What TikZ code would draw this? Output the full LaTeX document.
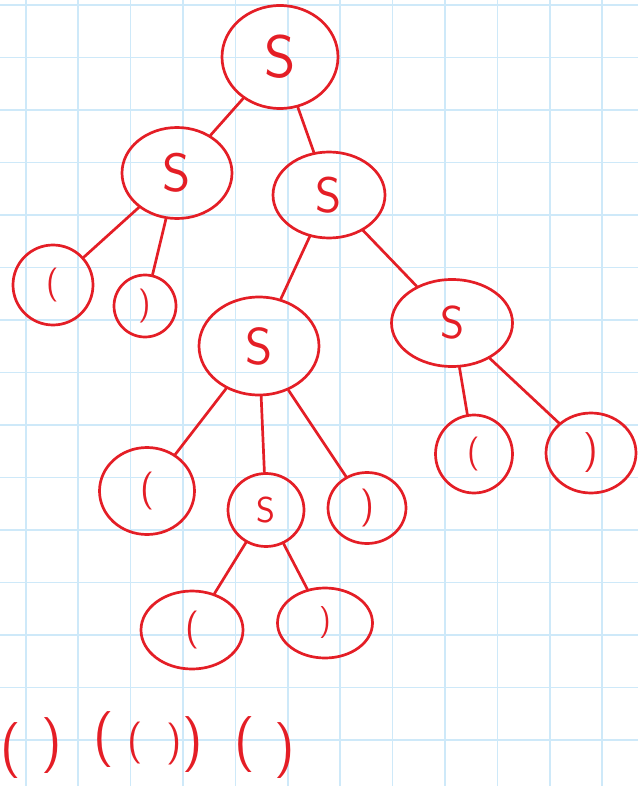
\documentclass[tikz,border=0pt]{standalone}
\usepackage{tikz}
\usetikzlibrary{shapes.geometric}
\definecolor{pen}{RGB}{228,30,38}
\definecolor{gridblue}{RGB}{206,233,249}
\tikzset{sym/.style={ellipse,draw=pen,line width=2.7pt,text=pen,inner sep=0pt,
    font=\sffamily\fontsize{#1}{#1}\selectfont},
  sym/.default=50,
  brk/.style={text=pen,inner sep=0pt,font=\sffamily\fontsize{#1}{#1}\selectfont},
  edge/.style={pen,line width=2.7pt,line cap=round},
  gridline/.style={gridblue,line width=1.6pt}}

\begin{document}
\begin{tikzpicture}[x=1pt,y=-1pt]
\useasboundingbox (0,0) rectangle (638,786);
% squared paper
\foreach \i in {0,...,11} \draw[gridline] (25.7+52.4*\i,0) -- (25.7+52.4*\i,786);
\foreach \j in {0,...,14} \draw[gridline] (0,5+52.5*\j) -- (638,5+52.5*\j);
% parse tree
\node[sym=60,minimum width=116,minimum height=103] (s0) at (280,57) {S};
\node[sym=54,minimum width=110,minimum height=91] (s1) at (177,173) {S};
\node[sym=50,minimum width=112,minimum height=86] (s2) at (329,195) {S};
\node[sym=34,minimum width=80,minimum height=80] (l1) at (53,285) {(};
\node[sym=34,minimum width=62,minimum height=62] (r1) at (145,306) {)};
\node[sym=52,minimum width=120,minimum height=98] (s3) at (259,346) {S};
\node[sym=46,minimum width=121,minimum height=87] (s4) at (452,323) {S};
\node[sym=38,minimum width=95,minimum height=87] (l2) at (147,491) {(};
\node[sym=36,minimum width=76,minimum height=73] (s5) at (266,510) {S};
\node[sym=38,minimum width=78,minimum height=71] (r2) at (367,508) {)};
\node[sym=34,minimum width=77,minimum height=78] (l3) at (474,454) {(};
\node[sym=40,minimum width=90,minimum height=80] (r3) at (591,453) {)};
\node[sym=38,minimum width=102,minimum height=78] (l4) at (192,630) {(};
\node[sym=32,minimum width=95,minimum height=70] (r4) at (325,623) {)};
\draw[edge] (s0) -- (s1);
\draw[edge] (s0) -- (s2);
\draw[edge] (s1) -- (l1);
\draw[edge] (s1) -- (r1);
\draw[edge] (s2) -- (s3);
\draw[edge] (s2) -- (s4);
\draw[edge] (s3) -- (l2);
\draw[edge] (s3) -- (s5);
\draw[edge] (s3) -- (r2);
\draw[edge] (s5) -- (l4);
\draw[edge] (s5) -- (r4);
\draw[edge] (s4) -- (l3);
\draw[edge] (s4) -- (r3);
% strings derived
\node[brk=56] (w1) at (11,751) {(};
\node[brk=56] (w2) at (52,746) {)};
\node[brk=56] (w3) at (104,740) {(};
\node[brk=42] (w4) at (135,743) {(};
\node[brk=42] (w5) at (174,744) {)};
\node[brk=56] (w6) at (193,745) {)};
\node[brk=56] (w7) at (245,745) {(};
\node[brk=56] (w8) at (285,751) {)};
\end{tikzpicture}
\end{document}
